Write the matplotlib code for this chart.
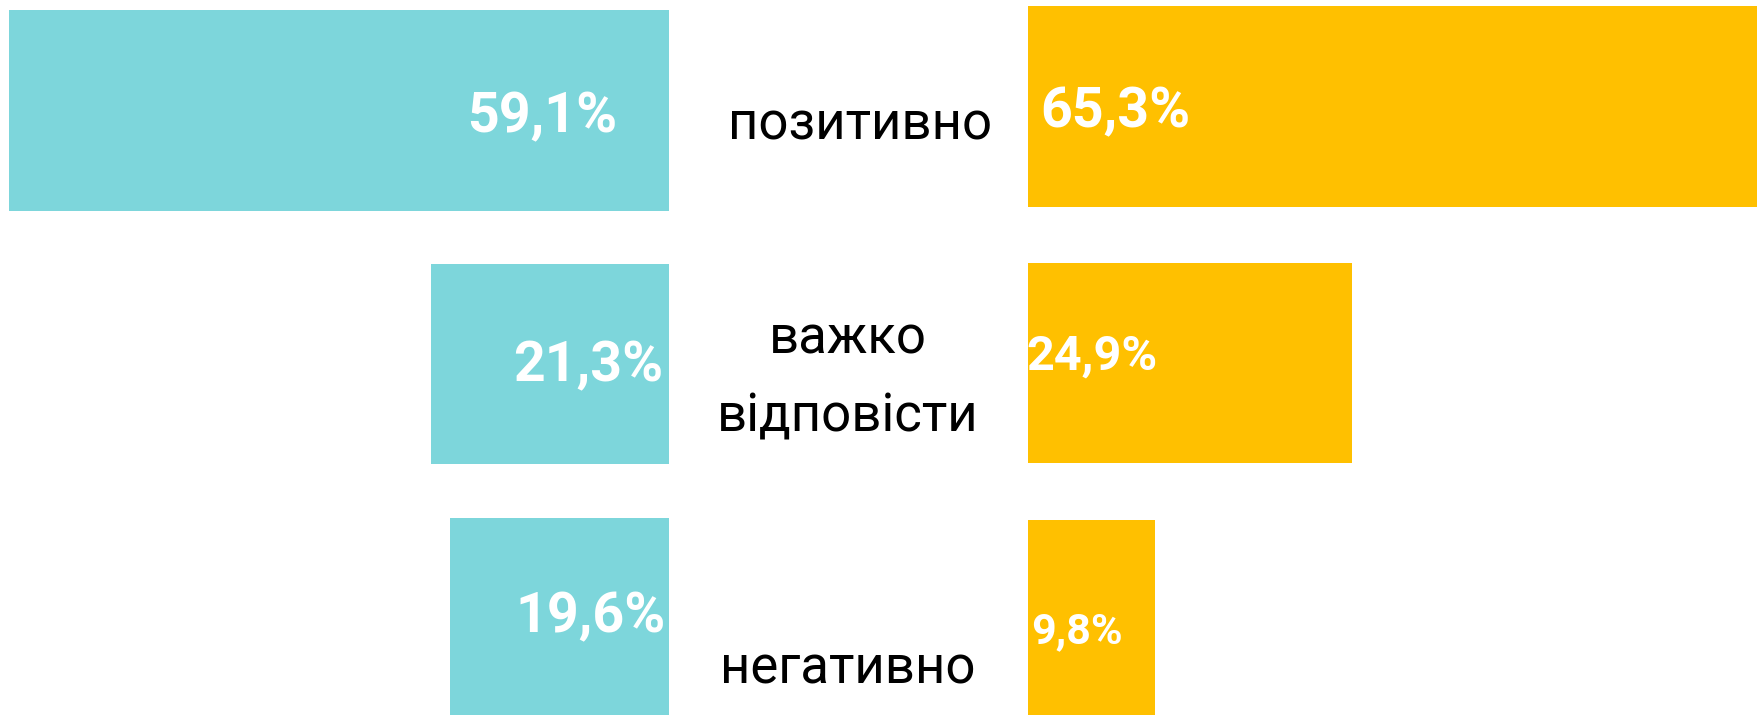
import matplotlib
matplotlib.use('Agg')
import matplotlib.pyplot as plt

plt.rcParams['font.family'] = ['Roboto', 'DejaVu Sans']

# data
cats = ['позитивно', 'важко\nвідповісти', 'негативно']
left_vals = [59.1, 21.3, 19.6]
right_vals = [65.3, 24.9, 9.8]

# styles / layout (pixels)
W, H = 1758, 715
left_col = '#7DD6DB'
right_col = '#FFC000'
left_lbl_dx = [-52, -6, -3]
left_lbl_dy = [-21.5, -17, -14]
right_lbl_dx = [12, -2, 3]
right_lbl_dy = [-20.5, -6.5, -23]
right_lbl_size = [40, 35, 31]
cat_x = [860, 848, 848]
cat_base = [139, 354, 683]

fig = plt.figure(figsize=(W / 100, H / 100), dpi=100)

# left block: bars grow to the left from x=669px
axL = fig.add_axes([0, 0, 669 / W, 1])
axL.barh(range(3), left_vals, height=0.79, color=left_col)
axL.set_xlim(669 / 11.168, 0)
axL.set_ylim((H - 110.5) / 253.75, -110.5 / 253.75)

# right block: bars grow to the right from x=1028px
axR = fig.add_axes([1028 / W, 0, (W - 1028) / W, 1])
axR.barh(range(3), right_vals, height=0.78, color=right_col)
axR.set_xlim(0, (W - 1028) / 13.0)
axR.set_ylim((H - 106.5) / 256.75, -106.5 / 256.75)

for ax in (axL, axR):
    ax.axis('off')

for i, v in enumerate(left_vals):
    s = f'{v:.1f}'.replace('.', ',') + '%'
    axL.annotate(s, xy=(0, i), xytext=(left_lbl_dx[i], left_lbl_dy[i]),
                 textcoords='offset pixels', ha='right', va='baseline',
                 color='white', fontsize=40, fontweight='bold')

for i, v in enumerate(right_vals):
    s = f'{v:.1f}'.replace('.', ',') + '%'
    axR.annotate(s, xy=(0, i), xytext=(right_lbl_dx[i], right_lbl_dy[i]),
                 textcoords='offset pixels', ha='left', va='baseline',
                 color='white', fontsize=right_lbl_size[i], fontweight='bold')

# category names in the gap between the two blocks
for i, c in enumerate(cats):
    for k, line in enumerate(c.split('\n')):
        fig.text(cat_x[i] / W, 1 - (cat_base[i] + 78 * k) / H, line,
                 ha='center', va='baseline', fontsize=38, color='black')

fig.savefig('out.png', dpi=100)
